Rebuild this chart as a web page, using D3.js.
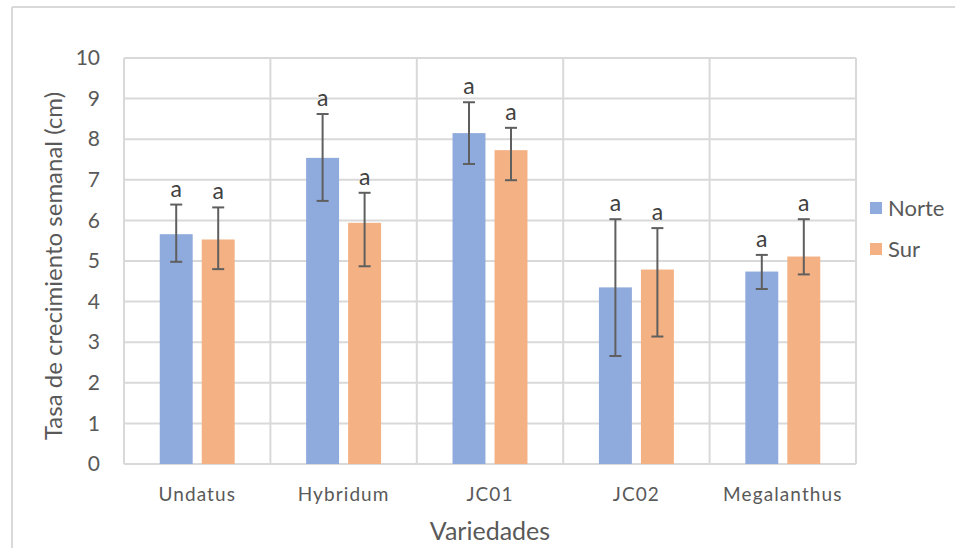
<!DOCTYPE html>
<html>
<head>
<meta charset="utf-8">
<script src="https://cdn.jsdelivr.net/npm/d3@7"></script>
<style>
  html, body { margin: 0; padding: 0; background: #fff; }
  svg { display: block; font-family: Lato, "Open Sans", sans-serif; }
</style>
</head>
<body>
<svg id="chart" width="955" height="548"></svg>
<script>
// Weekly growth rate per variety, north and south sites
const categories = ["Undatus", "Hybridum", "JC01", "JC02", "Megalanthus"];
const seriesNames = ["Norte", "Sur"];
const norte = [5.66, 7.54, 8.15, 4.35, 4.74];
const sur = [5.53, 5.94, 7.73, 4.79, 5.11];
// Error bar ends (upper / lower)
const norteHigh = [6.39, 8.62, 8.91, 6.03, 5.15];
const norteLow = [4.98, 6.48, 7.39, 2.66, 4.31];
const surHigh = [6.32, 6.68, 8.28, 5.81, 6.03];
const surLow = [4.80, 4.87, 6.99, 3.14, 4.67];
// Significance letters above each bar
const norteLetters = ["a", "a", "a", "a", "a"];
const surLetters = ["a", "a", "a", "a", "a"];
const yTicks = [0, 1, 2, 3, 4, 5, 6, 7, 8, 9, 10];
const colors = ["#8faadc", "#f4b183"];

const svg = d3.select("#chart");
const textColor = "#595959";
const gridColor = "#d9d9d9";

// Chart frame (top and left edges visible)
svg.append("line").attr("x1", 12).attr("x2", 955).attr("y1", 7).attr("y2", 7)
  .attr("stroke", gridColor).attr("stroke-width", 2);
svg.append("line").attr("x1", 12).attr("x2", 12).attr("y1", 7).attr("y2", 548)
  .attr("stroke", gridColor).attr("stroke-width", 2);

const plot = { left: 124, right: 856, top: 58, bottom: 464 };

const x = d3.scaleBand().domain(categories).range([plot.left, plot.right]).padding(0);
const y = d3.scaleLinear().domain([0, 10]).range([plot.bottom, plot.top]);
const barW = x.bandwidth() * 0.225;
const offset = 21;

// Horizontal grid
svg.append("g").selectAll("line").data(yTicks).join("line")
  .attr("x1", plot.left).attr("x2", plot.right)
  .attr("y1", d => y(d)).attr("y2", d => y(d))
  .attr("stroke", gridColor).attr("stroke-width", 2);

// Vertical category separators
const seps = categories.map(c => x(c)).concat([plot.right]);
svg.append("g").selectAll("line").data(seps).join("line")
  .attr("x1", d => d).attr("x2", d => d)
  .attr("y1", plot.top).attr("y2", plot.bottom)
  .attr("stroke", gridColor).attr("stroke-width", 2);

// Y axis tick labels
const yAxis = svg.append("g")
  .attr("transform", `translate(${plot.left},0)`)
  .call(d3.axisLeft(y).tickValues(yTicks).tickSize(0).tickPadding(24));
yAxis.select(".domain").remove();
yAxis.selectAll("text").attr("fill", textColor).attr("font-size", 21)
  .attr("font-family", "Lato, sans-serif");

// X axis category labels
const xAxis = svg.append("g")
  .attr("transform", `translate(0,${plot.bottom})`)
  .call(d3.axisBottom(x).tickSize(0).tickPadding(24));
xAxis.select(".domain").remove();
xAxis.selectAll("text").attr("fill", textColor).attr("font-size", 19)
  .attr("font-family", "Lato, sans-serif").attr("letter-spacing", 1.1);

const series = [
  { name: seriesNames[0], values: norte, high: norteHigh, low: norteLow, letters: norteLetters, dx: -offset, color: colors[0] },
  { name: seriesNames[1], values: sur, high: surHigh, low: surLow, letters: surLetters, dx: offset, color: colors[1] }
];

series.forEach(s => {
  const g = svg.append("g");
  const rows = categories.map((c, i) => ({
    c, v: s.values[i], hi: s.high[i], lo: s.low[i], letter: s.letters[i],
    cx: x(c) + x.bandwidth() / 2 + s.dx
  }));
  g.selectAll("rect").data(rows).join("rect")
    .attr("x", d => d.cx - barW / 2).attr("width", barW)
    .attr("y", d => y(d.v)).attr("height", d => y(0) - y(d.v))
    .attr("fill", s.color);
  // error bars
  const eb = g.selectAll("g.err").data(rows).join("g").attr("class", "err");
  eb.append("line").attr("x1", d => d.cx).attr("x2", d => d.cx)
    .attr("y1", d => y(d.hi)).attr("y2", d => y(d.lo))
    .attr("stroke", "#5f5f5f").attr("stroke-width", 2);
  eb.append("line").attr("x1", d => d.cx - 6).attr("x2", d => d.cx + 6)
    .attr("y1", d => y(d.hi)).attr("y2", d => y(d.hi))
    .attr("stroke", "#5f5f5f").attr("stroke-width", 2);
  eb.append("line").attr("x1", d => d.cx - 6).attr("x2", d => d.cx + 6)
    .attr("y1", d => y(d.lo)).attr("y2", d => y(d.lo))
    .attr("stroke", "#5f5f5f").attr("stroke-width", 2);
  // letters
  g.selectAll("text").data(rows).join("text")
    .attr("x", d => d.cx).attr("y", d => y(d.hi) - 8)
    .attr("text-anchor", "middle").attr("fill", "#404040")
    .attr("font-size", 23).text(d => d.letter);
});

// Axis titles
svg.append("text")
  .attr("transform", "translate(62,266) rotate(-90)")
  .attr("text-anchor", "middle").attr("fill", textColor).attr("font-size", 24)
  .text("Tasa de crecimiento semanal (cm)");
svg.append("text")
  .attr("x", (plot.left + plot.right) / 2).attr("y", 540)
  .attr("text-anchor", "middle").attr("fill", textColor).attr("font-size", 25)
  .text("Variedades");

// Legend
const legend = svg.append("g");
series.forEach((s, i) => {
  const ly = 208 + i * 41;
  legend.append("rect").attr("x", 870).attr("y", ly - 6).attr("width", 12).attr("height", 12)
    .attr("fill", s.color);
  legend.append("text").attr("x", 888).attr("y", ly).attr("dy", "0.35em")
    .attr("fill", textColor).attr("font-size", 22).text(s.name);
});
</script>
</body>
</html>
